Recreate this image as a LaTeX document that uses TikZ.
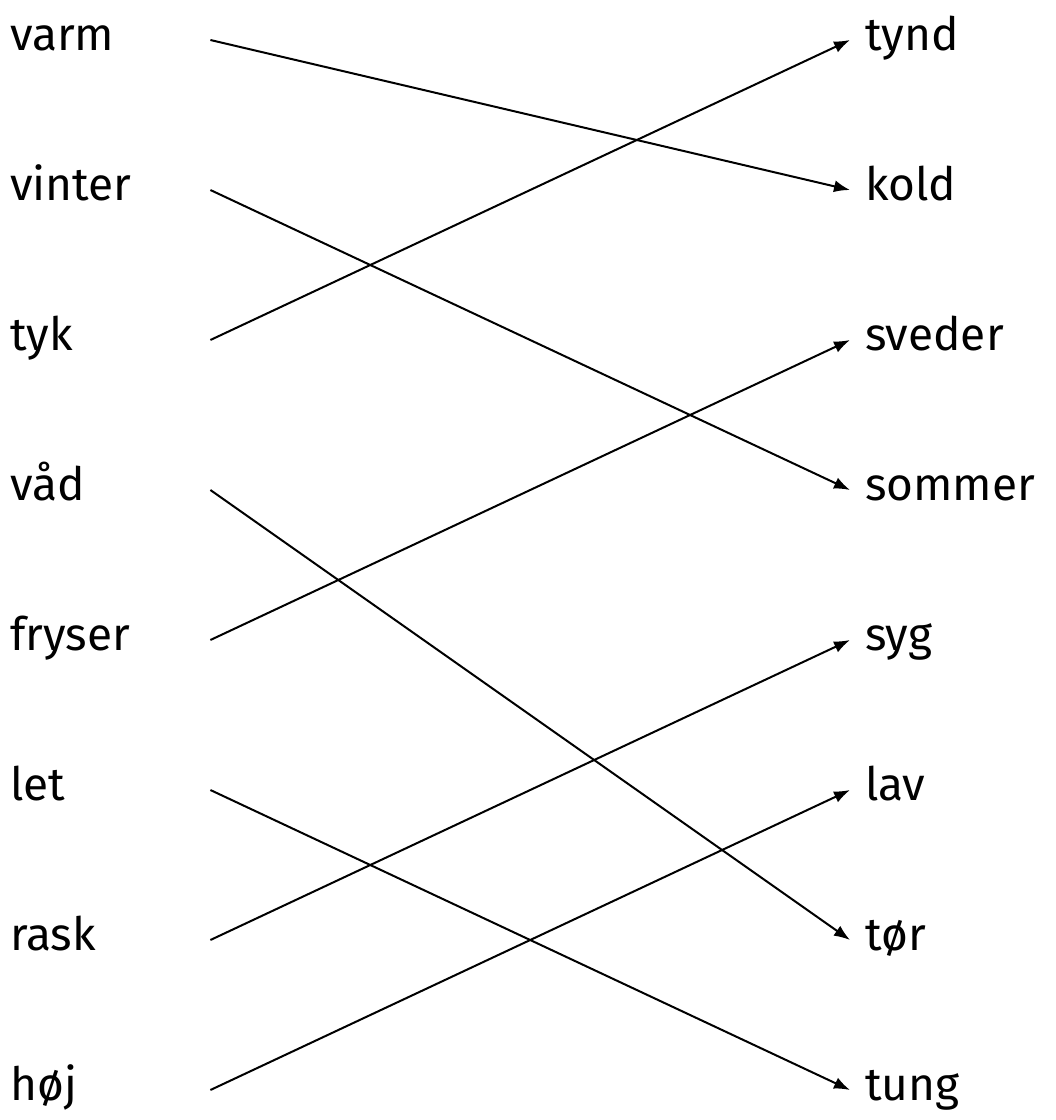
\documentclass[tikz,border=0pt]{standalone}
\usepackage{fontspec}
\setmainfont{Fira Sans}
\usetikzlibrary{arrows.meta}
\tikzset{
  word/.style={inner sep=0pt,text height=20pt,text depth=0pt,font=\fontsize{46}{50}\selectfont},
  lword/.style={word,anchor=west,text width=200pt,align=left},
  rword/.style={word,anchor=west,inner xsep=15pt},
  link/.style={line width=2pt,-{Latex[length=16pt,width=12pt]}}
}
\begin{document}
\begin{tikzpicture}[x=1pt,y=-1pt]
\useasboundingbox (0,0) rectangle (1056,1120);

%Left
\node (varm)   at (10,40)   [lword] {varm};
\node (vinter) at (10,190)  [lword] {vinter};
\node (tyk)    at (10,340)  [lword] {tyk};
\node (vaad)   at (10,490)  [lword] {våd};
\node (fryser) at (10,640)  [lword] {fryser};
\node (let)    at (10,790)  [lword] {let};
\node (rask)   at (10,940)  [lword] {rask};
\node (hoej)   at (10,1090) [lword] {høj};

%Right
\node (tynd)   at (850,40)   [rword] {tynd};
\node (kold)   at (850,190)  [rword] {kold};
\node (sveder) at (850,340)  [rword] {sveder};
\node (sommer) at (850,490)  [rword] {sommer};
\node (syg)    at (850,640)  [rword] {syg};
\node (lav)    at (850,790)  [rword] {lav};
\node (toer)   at (850,940)  [rword] {tør};
\node (tung)   at (850,1090) [rword] {tung};

%Pairs
\draw[link] (varm.east) -- (kold.west);
\draw[link] (vinter.east) -- (sommer.west);
\draw[link] (tyk.east) -- (tynd.west);
\draw[link] (vaad.east) -- (toer.west);
\draw[link] (fryser.east) -- (sveder.west);
\draw[link] (let.east) -- (tung.west);
\draw[link] (rask.east) -- (syg.west);
\draw[link] (hoej.east) -- (lav.west);

\end{tikzpicture}
\end{document}
